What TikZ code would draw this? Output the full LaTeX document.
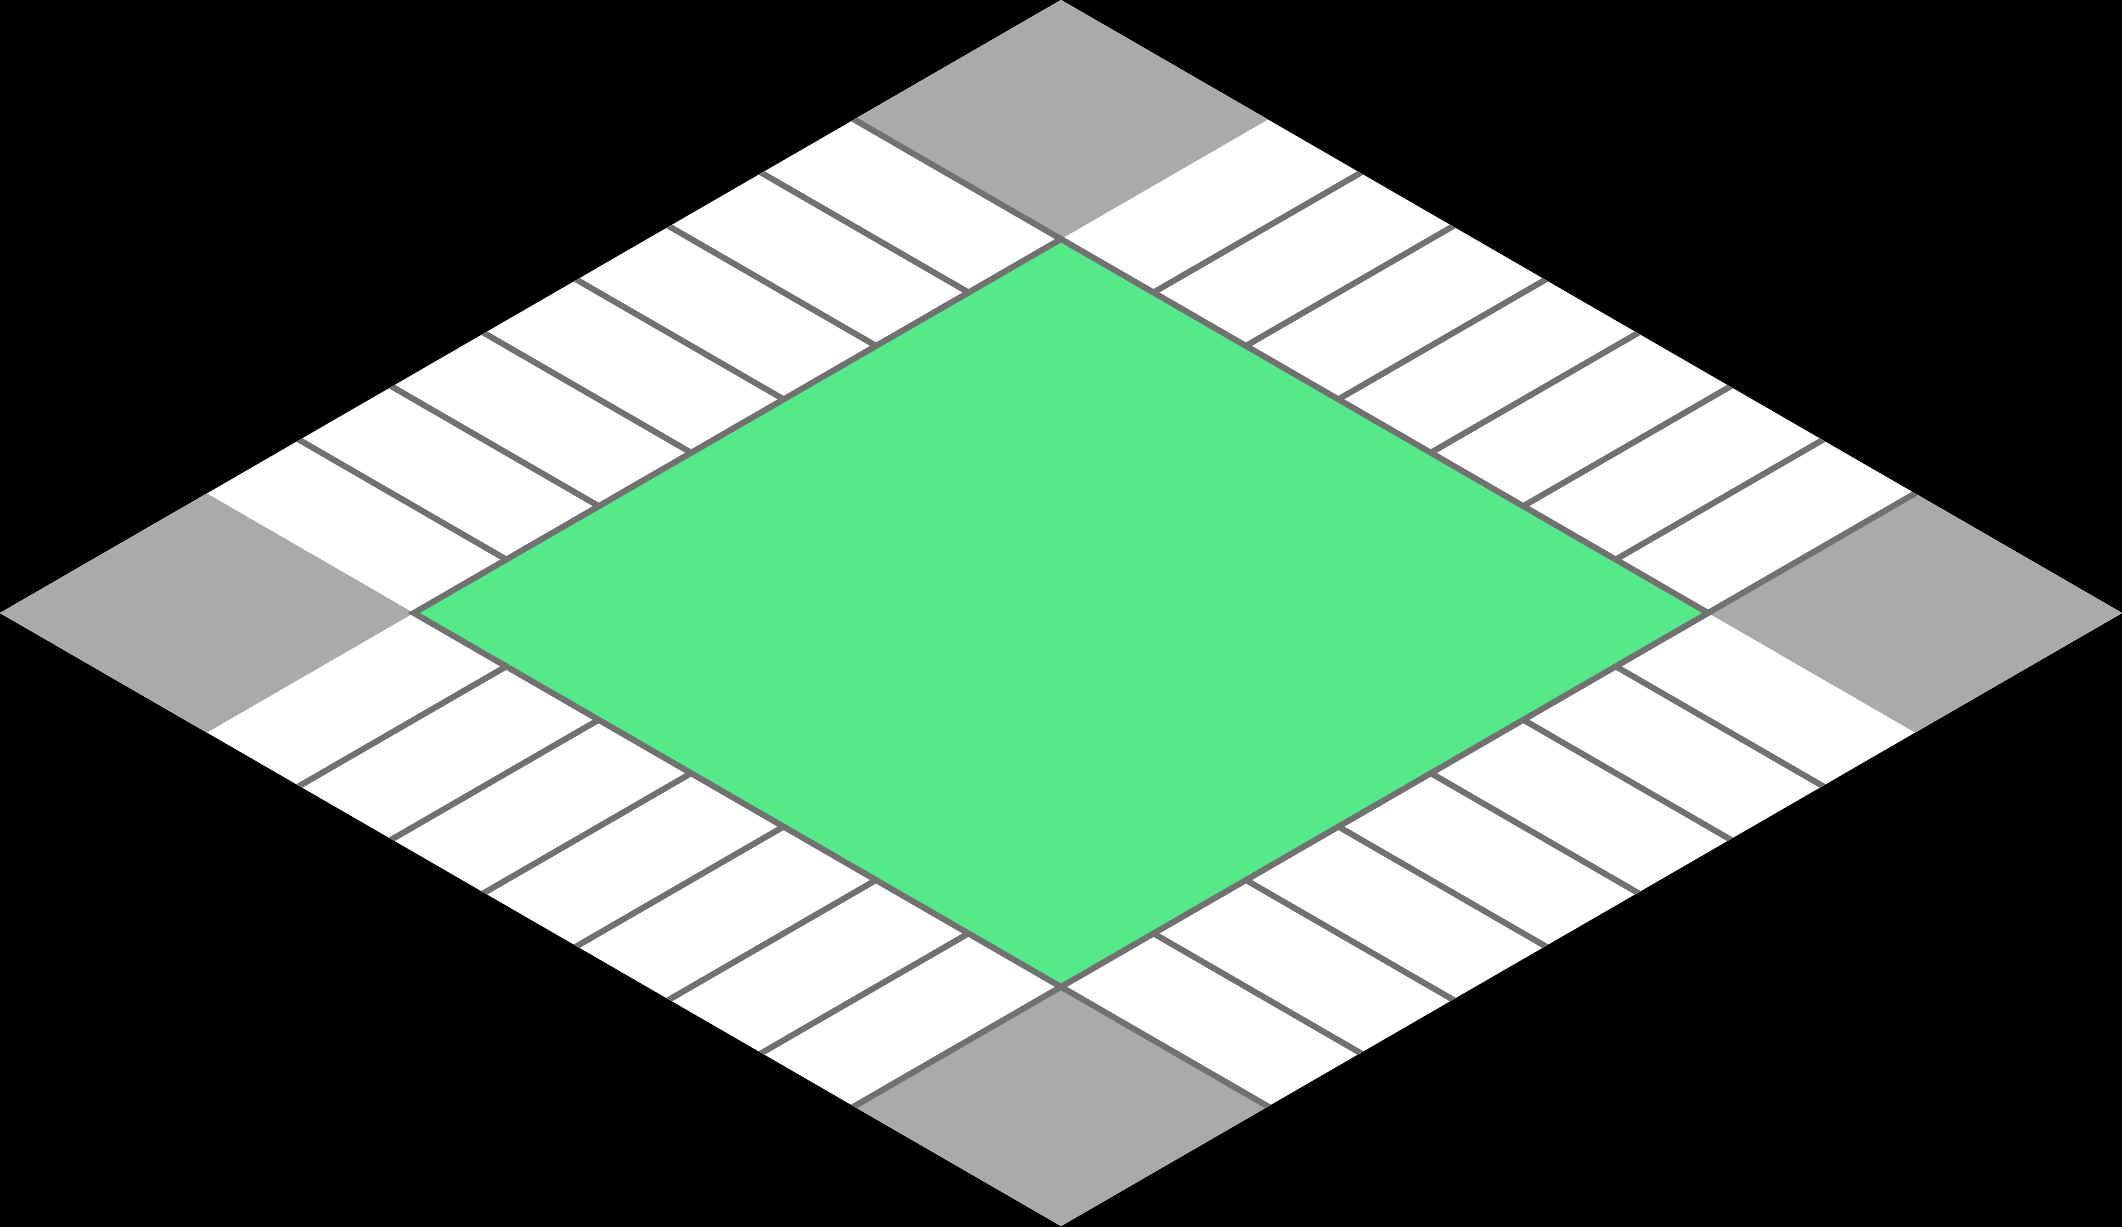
\documentclass[tikz,border=0pt]{standalone}
\definecolor{tilegreen}{HTML}{55E989}
\definecolor{cornergray}{HTML}{AAAAAA}
\definecolor{linegray}{HTML}{717171}

\begin{document}
\begin{tikzpicture}[
    stripe/.style={draw=linegray, line width=1.7pt},
    corner/.style={fill=cornergray},
    plaza/.style={fill=tilegreen, draw=linegray, line width=1.7pt}
]

% --------------------------------------------------------------------------
% Black canvas, then the isometric tile in (a,b) coordinates.
% --------------------------------------------------------------------------
\useasboundingbox (0,0) rectangle (21.22,12.26);
\fill[black] (-0.1,-0.1) rectangle (21.32,12.36);

\begin{scope}[shift={(10.61,12.26)}, x={(10.61cm,-6.13cm)}, y={(-10.61cm,-6.13cm)}]
    \def\bandw{0.195}
    \pgfmathsetmacro\stripegap{(1-2*\bandw)/7}

    % Outer tile.
    \fill[white] (0,0) -- (1,0) -- (1,1) -- (0,1) -- cycle;

    % Gray corner squares.
    \foreach \p/\q in {0/0, {1-\bandw}/0, {1-\bandw}/{1-\bandw}, 0/{1-\bandw}}
        \fill[corner] (\p,\q) -- ++(\bandw,0) -- ++(0,\bandw) -- ++(-\bandw,0) -- cycle;

    % Crossing stripes on the four bands.
    \begin{scope}
        \clip (0,0) -- (1,0) -- (1,1) -- (0,1) -- cycle;
        \foreach \k in {0,...,6}
            \draw[stripe] (-0.01,\bandw+\k*\stripegap) -- (\bandw,\bandw+\k*\stripegap);
        \foreach \k in {1,...,7} {
            \draw[stripe] (\bandw+\k*\stripegap,-0.01) -- (\bandw+\k*\stripegap,\bandw);
            \draw[stripe] (1.01,\bandw+\k*\stripegap) -- (1-\bandw,\bandw+\k*\stripegap);
            \draw[stripe] (\bandw+\k*\stripegap,1.01) -- (\bandw+\k*\stripegap,1-\bandw);
        }
    \end{scope}

    % Green centre.
    \filldraw[plaza] (\bandw,\bandw) -- (1-\bandw,\bandw) -- (1-\bandw,1-\bandw) -- (\bandw,1-\bandw) -- cycle;
\end{scope}

\end{tikzpicture}
\end{document}
